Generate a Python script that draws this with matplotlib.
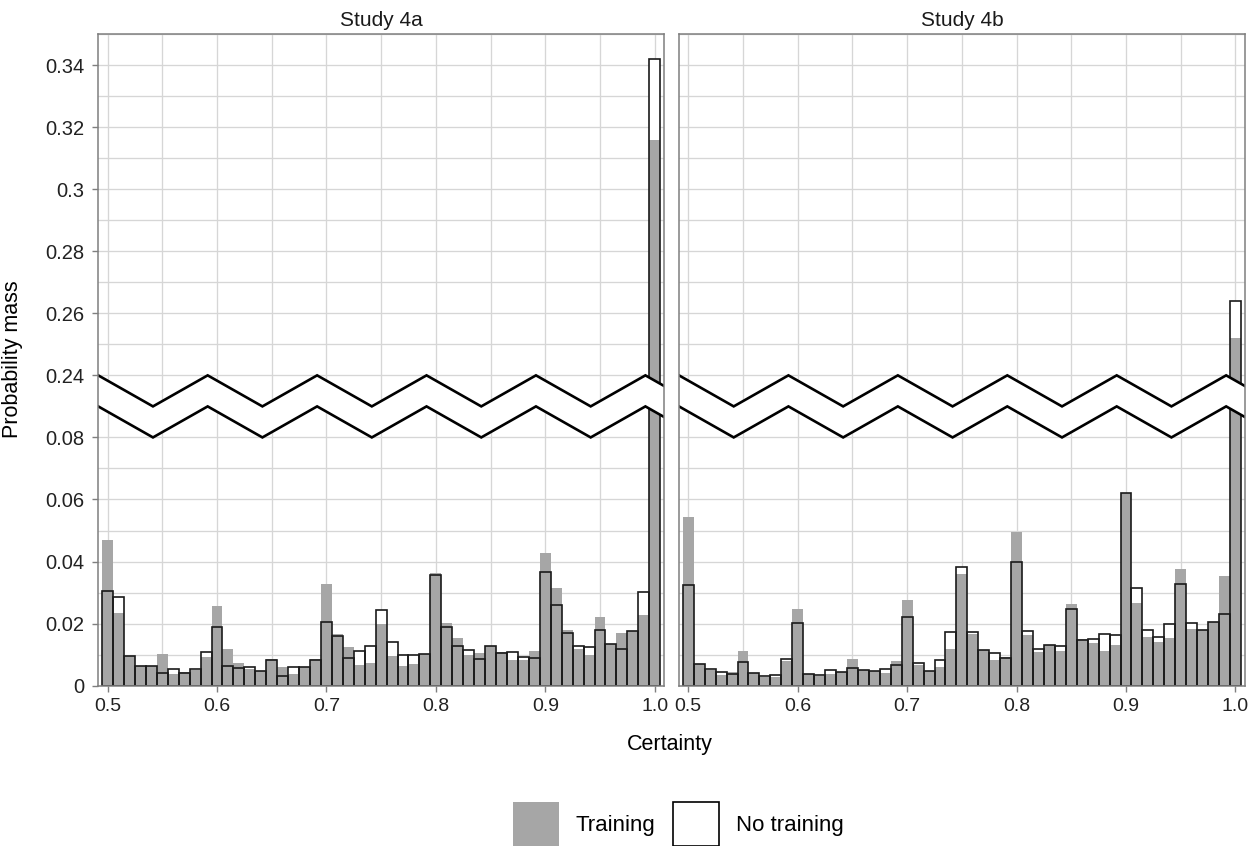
import matplotlib
matplotlib.use("Agg")
import matplotlib.pyplot as plt
import numpy as np
from matplotlib.patches import Patch

plt.rcParams['font.family'] = ['Liberation Sans', 'DejaVu Sans']

# certainty bins, 0.50 .. 1.00 in steps of 0.01
certainty = np.round(np.arange(50, 101) / 100, 2)

study_4a_training = [
    0.0471, 0.0235, 0.0097, 0.0065, 0.0063, 0.0103, 0.0037, 0.0043, 0.0052, 0.0094,
    0.0256, 0.0117, 0.0072, 0.0053, 0.0047, 0.0085, 0.0061, 0.0039, 0.0061, 0.0085,
    0.0328, 0.0167, 0.0125, 0.0068, 0.0074, 0.0200, 0.0097, 0.0063, 0.0070, 0.0103,
    0.0362, 0.0202, 0.0153, 0.0100, 0.0104, 0.0129, 0.0110, 0.0082, 0.0083, 0.0112,
    0.0427, 0.0315, 0.0178, 0.0119, 0.0099, 0.0220, 0.0135, 0.0170, 0.0177, 0.0227,
    0.316]
study_4a_no_training = [
    0.0305, 0.0286, 0.0097, 0.0065, 0.0063, 0.0042, 0.0055, 0.0040, 0.0055, 0.0109,
    0.0188, 0.0063, 0.0056, 0.0061, 0.0047, 0.0083, 0.0032, 0.0061, 0.0061, 0.0082,
    0.0204, 0.0160, 0.0090, 0.0111, 0.0129, 0.0243, 0.0141, 0.0100, 0.0098, 0.0103,
    0.0358, 0.0190, 0.0129, 0.0116, 0.0085, 0.0129, 0.0104, 0.0108, 0.0092, 0.0090,
    0.0365, 0.0260, 0.0169, 0.0129, 0.0126, 0.0178, 0.0135, 0.0117, 0.0177, 0.0303,
    0.342]
study_4b_training = [
    0.0543, 0.0070, 0.0051, 0.0034, 0.0045, 0.0113, 0.0041, 0.0029, 0.0027, 0.0078,
    0.0247, 0.0039, 0.0032, 0.0038, 0.0045, 0.0087, 0.0052, 0.0048, 0.0042, 0.0078,
    0.0276, 0.0066, 0.0048, 0.0061, 0.0119, 0.0361, 0.0166, 0.0115, 0.0083, 0.0092,
    0.0494, 0.0162, 0.0108, 0.0132, 0.0113, 0.0262, 0.0152, 0.0137, 0.0112, 0.0132,
    0.0620, 0.0268, 0.0156, 0.0141, 0.0153, 0.0376, 0.0183, 0.0178, 0.0206, 0.0353,
    0.252]
study_4b_no_training = [
    0.0326, 0.0070, 0.0055, 0.0043, 0.0038, 0.0077, 0.0041, 0.0031, 0.0033, 0.0087,
    0.0202, 0.0039, 0.0034, 0.0052, 0.0045, 0.0058, 0.0052, 0.0048, 0.0055, 0.0066,
    0.0220, 0.0072, 0.0048, 0.0082, 0.0174, 0.0384, 0.0174, 0.0115, 0.0105, 0.0089,
    0.0397, 0.0177, 0.0118, 0.0132, 0.0129, 0.0246, 0.0146, 0.0151, 0.0168, 0.0163,
    0.0620, 0.0314, 0.0178, 0.0158, 0.0200, 0.0328, 0.0203, 0.0178, 0.0206, 0.0232,
    0.264]

panel_titles = ["Study 4a", "Study 4b"]
y_low_ticks = [0, 0.02, 0.04, 0.06, 0.08]
y_high_ticks = [0.24, 0.26, 0.28, 0.30, 0.32, 0.34]
y_tick_labels = ["0", "0.02", "0.04", "0.06", "0.08",
                 "0.24", "0.26", "0.28", "0.3", "0.32", "0.34"]
x_ticks = [0.5, 0.6, 0.7, 0.8, 0.9, 1.0]
x_tick_labels = ["0.5", "0.6", "0.7", "0.8", "0.9", "1.0"]

# broken axis: everything above the gap is shifted down by this amount
GAP = 0.14
BREAK = 0.09


def squash(v):
    v = np.asarray(v, dtype=float)
    return np.where(v > BREAK, v - GAP, v)


GRAY = "#a6a6a6"
XLIM = (0.4915, 1.0085)
YLIM = (0, 0.21)

fig = plt.figure(figsize=(12.5, 8.46), dpi=100)
ax_left = fig.add_axes([0.0786, 0.1895, 0.4526, 0.7703])
ax_right = fig.add_axes([0.5432, 0.1895, 0.4526, 0.7703])

panels = [(ax_left, study_4a_training, study_4a_no_training),
          (ax_right, study_4b_training, study_4b_no_training)]

for i, (ax, train, no_train) in enumerate(panels):
    ax.set_xlim(*XLIM)
    ax.set_ylim(*YLIM)

    # grid (drawn by hand so the gap row can be left out)
    for gx in np.arange(0.5, 1.0001, 0.05):
        ax.axvline(gx, color="#d6d6d6", lw=0.95, zorder=0)
    grid_y = [k / 100 for k in range(0, 22) if k != 9]
    for gy in grid_y:
        ax.axhline(gy, color="#d6d6d6", lw=0.95, zorder=0)

    # no training: white fill below, outline on top of the training bars
    ax.bar(certainty, squash(no_train), width=0.01, color="white",
           edgecolor="none", zorder=2)
    ax.bar(certainty, squash(train), width=0.01, color=GRAY,
           edgecolor="none", zorder=3)
    ax.bar(certainty, squash(no_train), width=0.01, fill=False,
           edgecolor="#1a1a1a", linewidth=1.2, zorder=4)

    # zig-zag break band
    zx = XLIM[0] + 0.05 * np.arange(12)
    zig = np.where(np.arange(12) % 2 == 0, 0.01, 0.0)
    lower = 0.08 + zig
    upper = 0.09 + zig
    ax.fill_between(zx, lower, upper, color="white", lw=0, zorder=5)
    ax.plot(zx, lower, color="black", lw=1.9, zorder=6, solid_joinstyle="miter")
    ax.plot(zx, upper, color="black", lw=1.9, zorder=6, solid_joinstyle="miter")

    for s in ax.spines.values():
        s.set_color("#7f7f7f")
        s.set_linewidth(1.1)
        s.set_zorder(7)

    ax.set_xticks(x_ticks)
    ax.set_xticklabels(x_tick_labels)
    ax.tick_params(axis="x", length=4, width=1, color="#7f7f7f",
                   labelsize=14, labelcolor="#222222", pad=5)
    if i == 0:
        ax.set_yticks(list(y_low_ticks) + list(squash(y_high_ticks)))
        ax.set_yticklabels(y_tick_labels)
        ax.tick_params(axis="y", length=4, width=1, color="#7f7f7f",
                       labelsize=14.5, labelcolor="#222222", pad=6)
    else:
        ax.set_yticks([])

    ax.set_title(panel_titles[i], fontsize=15, color="#1a1a1a", pad=6)

fig.text(0.536, 0.1194, "Certainty", ha="center", va="center", fontsize=15.5,
         color="black")
fig.text(0.0104, 0.575, "Probability mass", ha="center", va="center",
         rotation=90, fontsize=15.5, color="black")

handles = [Patch(facecolor=GRAY, edgecolor="none"),
           Patch(facecolor="white", edgecolor="black", linewidth=1.2)]
fig.legend(handles, ["Training", "No training"], loc="center",
           bbox_to_anchor=(0.5424, 0.026), ncol=2, frameon=False, fontsize=16,
           handlelength=2.07, handleheight=2.67, handletextpad=0.75,
           columnspacing=0.8, borderpad=0)

fig.savefig("out.png", dpi=100)
